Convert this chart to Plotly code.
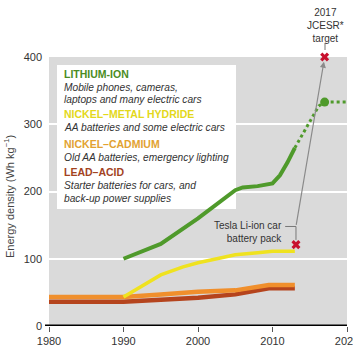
import plotly.graph_objects as go

# ---------------- data ----------------
years_li = [1990, 1995, 2000, 2003, 2005, 2006, 2008, 2010, 2011, 2012, 2013]
li_ion = [100, 122, 160, 185, 202, 206, 208, 212, 224, 243, 265]
years_li_proj = [2013, 2016.2, 2017]
li_ion_proj = [265, 327, 333]
years_li_flat = [2017, 2020]
li_ion_flat = [333, 333]

years_nimh = [1990, 1993, 1995, 1998, 2000, 2003, 2005, 2008, 2010, 2013]
nimh = [43, 62, 76, 88, 94, 101, 106, 109, 111, 111]

years_nicd = [1980, 1990, 1995, 2000, 2005, 2007, 2009.5, 2013]
nicd = [43, 43, 47, 51, 53, 56, 61, 61]

years_lead = [1980, 1990, 1995, 2000, 2005, 2007, 2009.5, 2013]
lead = [36, 36, 39, 42, 47, 51, 56, 56]

tesla_year, tesla_val = 2013.15, 121
target_year, target_val = 2017, 400

x_ticks = [1980, 1990, 2000, 2010, 2020]
y_ticks = [0, 100, 200, 300, 400]

legend_titles = ["LITHIUM-ION", "NICKEL–METAL HYDRIDE", "NICKEL–CADMIUM", "LEAD–ACID"]
legend_desc = [
    ["Mobile phones, cameras,", "laptops and many electric cars"],
    ["AA batteries and some electric cars"],
    ["Old AA batteries, emergency lighting"],
    ["Starter batteries for cars, and", "back-up power supplies"],
]

# ---------------- styles ----------------
GREEN = "#4f9a2b"
YELLOW = "#efe21f"
ORANGE = "#f08f2c"
RED = "#b5441d"
title_colors = ["#4a8c23", "#e3d81a", "#e2a231", "#a3431f"]
FONT = "Liberation Sans, Arial, sans-serif"

W, H = 353, 356
L, R, T, B = 49, 6, 57, 30


def pxx(x):
    return (x - L) / (W - L - R)


def pyy(y):
    return (H - B - y) / (H - T - B)


fig = go.Figure()

fig.add_trace(go.Scatter(x=years_lead, y=lead, mode="lines",
                         line=dict(color=RED, width=4.5), hoverinfo="skip"))
fig.add_trace(go.Scatter(x=years_nicd, y=nicd, mode="lines",
                         line=dict(color=ORANGE, width=4.5), hoverinfo="skip"))
fig.add_trace(go.Scatter(x=years_nimh, y=nimh, mode="lines",
                         line=dict(color=YELLOW, width=3.5), hoverinfo="skip"))
fig.add_trace(go.Scatter(x=years_li, y=li_ion, mode="lines",
                         line=dict(color=GREEN, width=4), hoverinfo="skip"))
fig.add_trace(go.Scatter(x=years_li_proj, y=li_ion_proj, mode="lines",
                         line=dict(color=GREEN, width=3, dash="dot"), hoverinfo="skip"))
fig.add_trace(go.Scatter(x=years_li_flat, y=li_ion_flat, mode="lines",
                         line=dict(color=GREEN, width=3, dash="dot"), hoverinfo="skip",
                         cliponaxis=False))
fig.add_trace(go.Scatter(x=[years_li_flat[0]], y=[li_ion_flat[0]], mode="markers",
                         marker=dict(color=GREEN, size=9), hoverinfo="skip"))
fig.add_trace(go.Scatter(x=[tesla_year, target_year], y=[tesla_val, target_val],
                         mode="markers", cliponaxis=False,
                         marker=dict(symbol="x", color="#c8102e", size=8,
                                     line=dict(width=0)), hoverinfo="skip"))

shapes = [
    # white legend box
    dict(type="rect", xref="paper", yref="paper", x0=pxx(57), x1=pxx(236),
         y0=pyy(209), y1=pyy(65), fillcolor="white", line=dict(width=0), layer="below"),
    # thick x axis line
    dict(type="line", xref="paper", yref="y", x0=pxx(45), x1=1, y0=0, y1=0,
         line=dict(color="black", width=3)),
    # Tesla leader
    dict(type="path", xref="x", yref="y",
         path=f"M 2011.7,148 L {tesla_year},148 L {tesla_year},128",
         line=dict(color="#777", width=1)),
    # target leader
    dict(type="line", xref="paper", yref="paper", x0=pxx(325), x1=pxx(325),
         y0=pyy(50), y1=pyy(43), line=dict(color="#777", width=1)),
]

annotations = []
# legend text
ypos = [74, 114, 144, 172]
desc_pos = [[87, 100], [128], [157], [185, 198]]
for i, t in enumerate(legend_titles):
    annotations.append(dict(text=f"<b>{t}</b>", xref="paper", yref="paper",
                            x=pxx(62), y=pyy(ypos[i]), xanchor="left", yanchor="middle",
                            showarrow=False,
                            font=dict(family=FONT, size=10.5, color=title_colors[i])))
    for d, yp in zip(legend_desc[i], desc_pos[i]):
        annotations.append(dict(text=f"<i>{d}</i>", xref="paper", yref="paper",
                                x=pxx(62), y=pyy(yp), xanchor="left", yanchor="middle",
                                showarrow=False,
                                font=dict(family=FONT, size=10.2, color="#333")))

# arrow Tesla -> target
annotations.append(dict(x=2016.9, y=393, ax=tesla_year, ay=148, xref="x", yref="y",
                        axref="x", ayref="y", text="", showarrow=True, arrowhead=2,
                        arrowsize=1, arrowwidth=1.2, arrowcolor="#8a8a8a"))
annotations.append(dict(text="Tesla Li-ion car<br>battery pack", xref="paper", yref="paper",
                        x=pxx(284), y=pyy(232), xanchor="right", yanchor="middle",
                        align="right", showarrow=False,
                        font=dict(family=FONT, size=10, color="#333")))
annotations.append(dict(text="2017<br>JCESR*<br>target", xref="paper", yref="paper",
                        x=pxx(325), y=pyy(26), xanchor="center", yanchor="middle",
                        align="center", showarrow=False,
                        font=dict(family=FONT, size=10, color="#333")))
annotations.append(dict(text="Energy density (Wh kg<sup>−1</sup>)", xref="paper", yref="paper",
                        x=pxx(9), y=pyy(197), xanchor="center", yanchor="middle",
                        textangle=-90, showarrow=False,
                        font=dict(family=FONT, size=11, color="#444")))

fig.update_layout(
    width=W, height=H, margin=dict(l=L, r=R, t=T, b=B, pad=0, autoexpand=False),
    paper_bgcolor="white", plot_bgcolor="#dadada", showlegend=False,
    font=dict(family=FONT, size=11, color="#333"),
    shapes=shapes, annotations=annotations,
    xaxis=dict(range=[1980, 2020], tickvals=x_ticks, ticks="outside", ticklen=5,
               tickcolor="#555", tickwidth=1, showgrid=False, zeroline=False,
               showline=False, ticklabeloverflow="allow", automargin=False,
               tickfont=dict(size=11, color="#333"), fixedrange=True),
    yaxis=dict(range=[0, 400], tickvals=y_ticks, showgrid=True, gridcolor="white",
               gridwidth=2, zeroline=False, showline=False, ticks="", automargin=False,
               ticklabelstandoff=6, tickfont=dict(size=11, color="#333"), fixedrange=True),
)

fig.write_html("out.html")
